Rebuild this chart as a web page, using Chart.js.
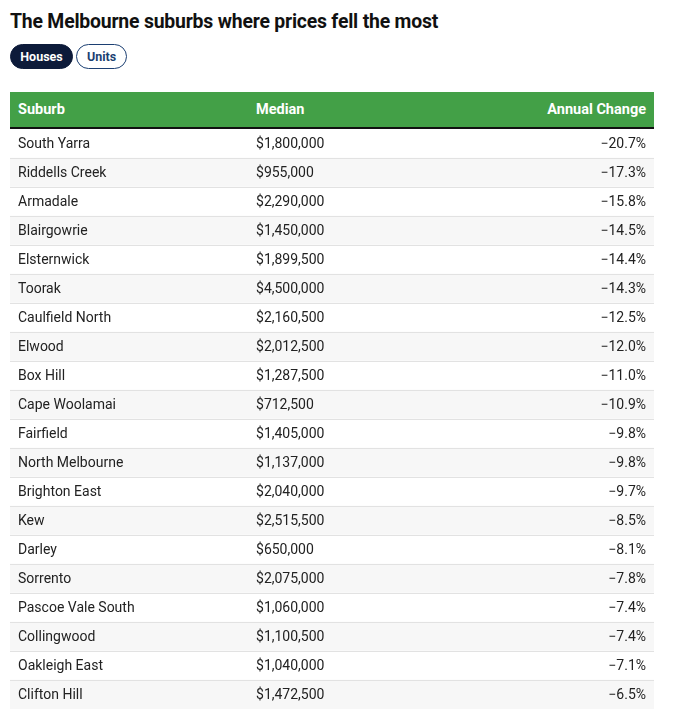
<!DOCTYPE html>
<html lang="en">
<head>
    <meta charset="UTF-8">
    <title>The Melbourne suburbs where prices fell the most</title>
    <script src="https://cdn.jsdelivr.net/npm/chart.js"></script>
    <style>
        body { margin: 0; background: #fff; font-family: Roboto, "Noto Sans", sans-serif; color: #222; }
        #wrap { position: relative; width: 676px; height: 717px; }
        h1 { position: absolute; left: 10px; top: 10px; margin: 0; font-size: 19.4px; font-weight: 700; color: #111; letter-spacing: -0.2px; }
        .pill { position: absolute; top: 44px; height: 25px; box-sizing: border-box; border-radius: 13px;
                font-size: 12.5px; font-weight: 700; line-height: 23px; text-align: center; }
        #houses { left: 10px; width: 63px; background: #0d1b3a; color: #fff; border: 1px solid #0d1b3a; }
        #units { left: 76px; width: 51px; background: #fff; color: #1c3f72; border: 1px solid #1c3f72; }
        #head { position: absolute; left: 10px; top: 92px; width: 644px; height: 35px; background: #43a047;
                border-bottom: 2px solid #111; color: #fff; font-weight: 700; font-size: 14.5px; line-height: 35px; }
        #head span { position: absolute; }
        #table { position: absolute; left: 10px; top: 129px; width: 644px; height: 580px; }
    </style>
</head>
<body>
<div id="wrap">
    <h1>The Melbourne suburbs where prices fell the most</h1>
    <div class="pill" id="houses">Houses</div>
    <div class="pill" id="units">Units</div>
    <div id="head">
        <span style="left:8px">Suburb</span>
        <span style="left:246px">Median</span>
        <span style="right:8px">Annual Change</span>
    </div>
    <div id="table"><canvas id="rows"></canvas></div>
</div>

<script>
    const suburbs = ['South Yarra', 'Riddells Creek', 'Armadale', 'Blairgowrie', 'Elsternwick', 'Toorak',
        'Caulfield North', 'Elwood', 'Box Hill', 'Cape Woolamai', 'Fairfield', 'North Melbourne',
        'Brighton East', 'Kew', 'Darley', 'Sorrento', 'Pascoe Vale South', 'Collingwood',
        'Oakleigh East', 'Clifton Hill'];
    const medians = [1800000, 955000, 2290000, 1450000, 1899500, 4500000, 2160500, 2012500, 1287500, 712500,
        1405000, 1137000, 2040000, 2515500, 650000, 2075000, 1060000, 1100500, 1040000, 1472500];
    const changes = [-20.7, -17.3, -15.8, -14.5, -14.4, -14.3, -12.5, -12.0, -11.0, -10.9,
        -9.8, -9.8, -9.7, -8.5, -8.1, -7.8, -7.4, -7.4, -7.1, -6.5];

    const fmtMoney = v => '$' + v.toLocaleString('en-US');
    const fmtPct = v => (v < 0 ? '\u2212' : '') + Math.abs(v).toFixed(1) + '%';

    // text columns + row separators, placed from the scales
    const cellText = {
        id: 'cellText',
        afterDatasetsDraw(chart) {
            const { ctx, scales: { x, y } } = chart;
            const band = y.getPixelForValue(1) - y.getPixelForValue(0);
            ctx.save();
            ctx.strokeStyle = '#e2e2e2';
            ctx.lineWidth = 1;
            for (let i = 1; i < suburbs.length; i++) {
                const yy = Math.round(y.getPixelForValue(i) - band / 2) + 0.5;
                ctx.beginPath();
                ctx.moveTo(x.getPixelForValue(0), yy);
                ctx.lineTo(x.getPixelForValue(1), yy);
                ctx.stroke();
            }
            ctx.fillStyle = '#222';
            ctx.font = '14px Roboto, "Noto Sans", sans-serif';
            ctx.textBaseline = 'middle';
            suburbs.forEach((s, i) => {
                const yy = y.getPixelForValue(i) + 1;
                ctx.textAlign = 'left';
                ctx.fillText(s, x.getPixelForValue(0) + 8, yy);
                ctx.fillText(fmtMoney(medians[i]), x.getPixelForValue(0.382), yy);
                ctx.textAlign = 'right';
                ctx.fillText(fmtPct(changes[i]), x.getPixelForValue(1) - 8, yy);
            });
            ctx.restore();
        }
    };

    new Chart(document.getElementById('rows'), {
        type: 'bar',
        data: {
            labels: suburbs,
            datasets: [{
                data: suburbs.map(() => [0, 1]),
                backgroundColor: suburbs.map((s, i) => i % 2 ? '#f7f7f7' : '#ffffff'),
                barPercentage: 1,
                categoryPercentage: 1,
                borderWidth: 0
            }]
        },
        options: {
            indexAxis: 'y',
            responsive: true,
            maintainAspectRatio: false,
            animation: false,
            layout: { padding: 0 },
            plugins: { legend: { display: false }, tooltip: { enabled: false } },
            scales: {
                x: { type: 'linear', min: 0, max: 1, display: false },
                y: { type: 'category', display: false, offset: true, grid: { offset: true } }
            }
        },
        plugins: [cellText]
    });
</script>
</body>
</html>
